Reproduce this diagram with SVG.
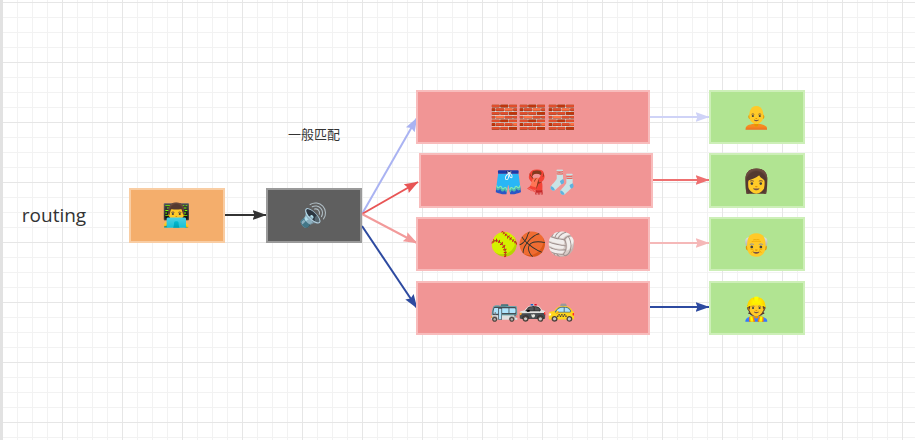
<svg xmlns="http://www.w3.org/2000/svg" width="915" height="440" viewBox="0 0 915 440">
<style>
.em{font-family:"Noto Color Emoji","Noto Sans","DejaVu Sans",sans-serif;font-size:23px;text-anchor:middle}
.red{fill:#f19595;stroke:#f8bcbc;stroke-width:2}
.grn{fill:#b1e492;stroke:#cdefb8;stroke-width:2}
.c{fill:none;stroke-width:2}
</style>
<defs>
<pattern id="g" width="60" height="60" patternUnits="userSpaceOnUse" x="2" y="2">
<path d="M15.5 0V60M30.5 0V60M45.5 0V60M0 15.5H60M0 30.5H60M0 45.5H60" fill="none" stroke="#f2f2f2" stroke-width="1"/>
<path d="M0.5 0V60M0 0.5H60" fill="none" stroke="#e6e6e6" stroke-width="1"/>
</pattern>
<marker id="a1" markerUnits="userSpaceOnUse" markerWidth="14" markerHeight="12" refX="13.5" refY="6" orient="auto"><path d="M0 1L14 6L0 11L2 6z" fill="context-stroke"/></marker>
</defs>
<rect width="915" height="440" fill="#fff"/>
<rect width="915" height="440" fill="url(#g)"/>
<rect width="3" height="440" fill="#e2e2e2"/>
<g id="connectors">
<path class="c" d="M225 215H266" stroke="#333" marker-end="url(#a1)"/>
<path class="c" d="M362 214L417 118" stroke="#aab3f2" marker-end="url(#a1)"/>
<path class="c" d="M362 214L418 182" stroke="#e85555" marker-end="url(#a1)"/>
<path class="c" d="M362 214L417 243" stroke="#f29a9a" marker-end="url(#a1)"/>
<path class="c" d="M362 226L417 308" stroke="#2d4aa0" marker-end="url(#a1)"/>
<path class="c" d="M650 117H709" stroke="#cfd3f7" marker-end="url(#a1)"/>
<path class="c" d="M652 180H709" stroke="#ee7070" marker-end="url(#a1)"/>
<path class="c" d="M650 243H709" stroke="#f5b8b8" marker-end="url(#a1)"/>
<path class="c" d="M650 307H709" stroke="#2d4aa0" marker-end="url(#a1)"/>
</g>
<g id="title"><text x="54" y="222" font-family="'Open Sans','Noto Sans',sans-serif" font-size="19" fill="#333" text-anchor="middle">routing</text></g>
<g id="label"><text x="314" y="139" font-family="'Noto Sans CJK SC',sans-serif" font-size="13" fill="#333" text-anchor="middle">一般匹配</text></g>
<g id="n-user"><rect x="130" y="189" width="94" height="53" fill="#f4ae6c" stroke="#f9cda3" stroke-width="2"/><text class="em" x="177" y="223">👨‍💻</text></g>
<g id="n-ex"><rect x="267" y="189" width="94" height="53" fill="#5f5f5f" stroke="#9a9a9a" stroke-width="2"/><text class="em" x="314" y="223">🔊</text></g>
<g id="q1"><rect class="red" x="417" y="91" width="232" height="52"/><text class="em" x="505 533 562" y="125">🧱🧱🧱</text></g>
<g id="q2"><rect class="red" x="420" y="154" width="232" height="53"/><text class="em" x="509 537 563" y="190">🩳🧣🧦</text></g>
<g id="q3"><rect class="red" x="417" y="218" width="232" height="52"/><text class="em" x="505 533 562" y="252">🥎🏀🏐</text></g>
<g id="q4"><rect class="red" x="417" y="282" width="232" height="52"/><text class="em" x="505 533 562" y="317">🚌🚓🚕</text></g>
<g id="c1"><rect class="grn" x="710" y="91" width="94" height="52"/><text class="em" x="757" y="125">🧑‍🦲</text></g>
<g id="c2"><rect class="grn" x="710" y="154" width="94" height="53"/><text class="em" x="757" y="189">👩</text></g>
<g id="c3"><rect class="grn" x="710" y="218" width="94" height="52"/><text class="em" x="757" y="252">👴</text></g>
<g id="c4"><rect class="grn" x="710" y="282" width="94" height="52"/><text class="em" x="757" y="317">👷</text></g>
</svg>
